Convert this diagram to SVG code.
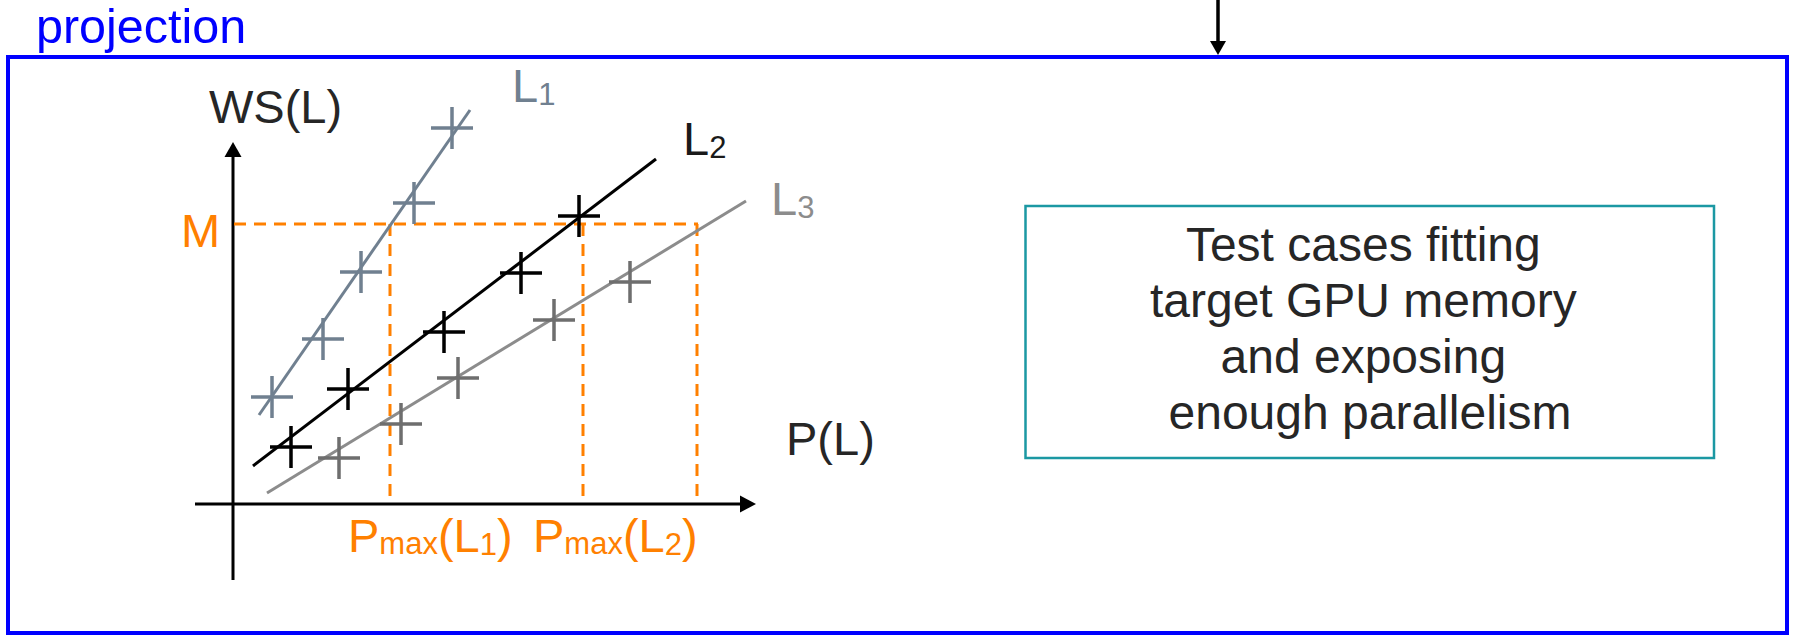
<svg xmlns="http://www.w3.org/2000/svg" width="1793" height="636" viewBox="0 0 1793 636">
<style>
  text { font-family: "Liberation Sans", Arial, sans-serif; }
  .big { font-size: 47px; }
  .sub { font-size: 31px; }
  .box { font-size: 48px; }
  .dark { fill: #262626; }
  .orange { fill: #FF8000; }
  .dash { stroke: #FF8000; stroke-width: 3; stroke-dasharray: 12 8; fill: none; }
  .l1 { stroke: #708090; stroke-width: 3; fill: none; }
  .l2 { stroke: #000000; stroke-width: 3; fill: none; }
  .l3 { stroke: #8C8C8C; stroke-width: 3; fill: none; }
  .c1 { stroke: #708090; stroke-width: 3.5; fill: none; }
  .c2 { stroke: #000000; stroke-width: 3.5; fill: none; }
  .c3 { stroke: #6E6E6E; stroke-width: 3.5; fill: none; }
  .axis { stroke: #000000; stroke-width: 3; fill: none; }
</style>
<defs>
  <path id="cross" d="M-21,0 H21 M0,-21 V21"/>
</defs>

<g id="projection-frame">
  <rect x="8" y="57" width="1779" height="576" fill="none" stroke="#0000FF" stroke-width="4"/>
  <text x="36" y="43" font-size="48.5" fill="#0000FF">projection</text>
</g>

<g id="connectors">
  <line x1="1218" y1="0" x2="1218" y2="42" stroke="#000" stroke-width="3.5"/>
  <polygon points="1210,41 1226,41 1218,55" fill="#000"/>
</g>

<g id="chart">
  <!-- axes -->
  <line class="axis" x1="233" y1="580" x2="233" y2="155"/>
  <polygon points="233,142 224.5,157 241.5,157" fill="#000"/>
  <line class="axis" x1="195" y1="504" x2="742" y2="504"/>
  <polygon points="756,504 740,495.5 740,512.5" fill="#000"/>

  <!-- dashed guides -->
  <line class="dash" x1="234" y1="224" x2="698" y2="224"/>
  <line class="dash" x1="390" y1="224" x2="390" y2="504"/>
  <line class="dash" x1="583" y1="224" x2="583" y2="504"/>
  <line class="dash" x1="697" y1="224" x2="697" y2="504"/>

  <!-- L1 -->
  <line class="l1" x1="470" y1="110" x2="259" y2="415"/>
  <g class="c1">
    <use href="#cross" x="452" y="128"/>
    <use href="#cross" x="414" y="203"/>
    <use href="#cross" x="361" y="272"/>
    <use href="#cross" x="323" y="339"/>
    <use href="#cross" x="272" y="397"/>
  </g>

  <!-- L2 -->
  <line class="l2" x1="656" y1="159" x2="253" y2="466"/>
  <g class="c2">
    <use href="#cross" x="579" y="216"/>
    <use href="#cross" x="521" y="273"/>
    <use href="#cross" x="444" y="332"/>
    <use href="#cross" x="348" y="389"/>
    <use href="#cross" x="291" y="447"/>
  </g>

  <!-- L3 -->
  <line class="l3" x1="746" y1="201" x2="267" y2="493"/>
  <g class="c3">
    <use href="#cross" x="630" y="282"/>
    <use href="#cross" x="554" y="320"/>
    <use href="#cross" x="458" y="378"/>
    <use href="#cross" x="401" y="424"/>
    <use href="#cross" x="339" y="458"/>
  </g>

  <!-- labels -->
  <text class="big dark" x="209" y="123">WS(L)</text>
  <text class="big dark" x="786" y="455">P(L)</text>
  <text class="big orange" x="181" y="247">M</text>
  <text class="big" x="512" y="102" fill="#708090">L<tspan class="sub" dy="3">1</tspan></text>
  <text class="big" x="683" y="155" fill="#1a1a1a">L<tspan class="sub" dy="3">2</tspan></text>
  <text class="big" x="771" y="215" fill="#8C8C8C">L<tspan class="sub" dy="3">3</tspan></text>
  <text class="big orange" x="348" y="552">P<tspan class="sub" dy="2">max</tspan><tspan dy="-2">(L</tspan><tspan class="sub" dy="3">1</tspan><tspan dy="-3">)</tspan></text>
  <text class="big orange" x="533" y="552">P<tspan class="sub" dy="2">max</tspan><tspan dy="-2">(L</tspan><tspan class="sub" dy="3">2</tspan><tspan dy="-3">)</tspan></text>
</g>

<g id="result-box">
  <rect x="1025.5" y="206" width="688.5" height="252" fill="none" stroke="#1B98A3" stroke-width="2.5"/>
  <text class="box dark" text-anchor="middle">
    <tspan x="1370" y="261">Test cases fitting</tspan>
    <tspan x="1370" y="317">target GPU memory</tspan>
    <tspan x="1370" y="373">and exposing</tspan>
    <tspan x="1370" y="429">enough parallelism</tspan>
  </text>
</g>
</svg>
